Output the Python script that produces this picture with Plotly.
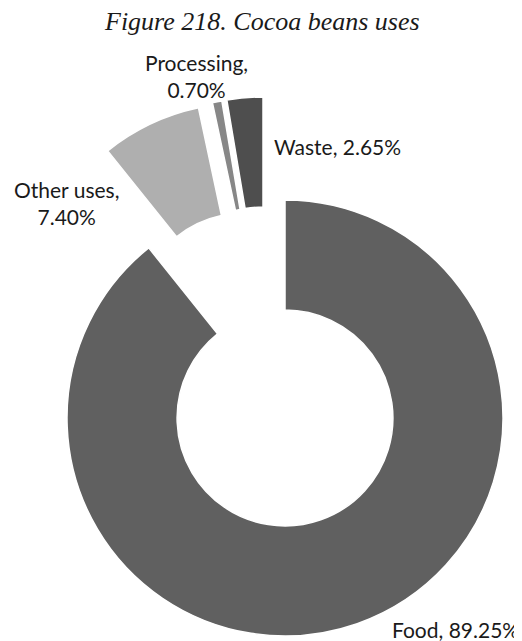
import math
import plotly.graph_objects as go

# ---- data ----
labels = ["Food", "Other uses", "Processing", "Waste"]
shares = [89.25, 7.40, 0.70, 2.65]
label_text = ["Food, 89.25%", "Other uses,<br>7.40%", "Processing,<br>0.70%", "Waste, 2.65%"]
title_text = "Figure 218. Cocoa beans uses"

# ---- styles / layout ----
colors = ["#606060", "#afafaf", "#878787", "#4e4e4e"]
# explode offsets of each slice in px (dx, dy), as in the original chart
explode_px = [(0, 0), (-41, -97), (-27, -102), (-22, -103)]

OFF = 8                      # default page body margin
W, H = 522 - OFF, 641 - OFF  # figure size so that it fits in the window
CX, CY, R = 285 - OFF, 418 - OFF, 218
HOLE = 0.495
LABEL_FONT = dict(family="Lato, 'Open Sans', sans-serif", size=21, color="#1a1a1a")

fig = go.Figure()
n = len(labels)
for i in range(n):
    dx, dy = explode_px[i]
    cx, cy = CX + dx, CY + dy
    cols = [colors[j] if j == i else "rgba(0,0,0,0)" for j in range(n)]
    widths = [1.5 if j == i else 0 for j in range(n)]
    fig.add_trace(go.Pie(
        labels=labels, values=shares, sort=False, direction="clockwise",
        rotation=0, hole=HOLE, textinfo="none", showlegend=False,
        hoverinfo="label+percent" if i == 0 else "skip",
        marker=dict(colors=cols, line=dict(color="white", width=widths)),
        domain=dict(x=[(cx - R) / W, (cx + R) / W],
                    y=[(H - cy - R) / H, (H - cy + R) / H]),
    ))

# label positions (px in the reference window) and anchors
label_pos = {
    0: (521, 629, "right"),
    1: (66, 203, "center"),
    2: (196, 76, "center"),
    3: (272, 147, "left"),
}
annotations = []
for i, (px, py, anchor) in label_pos.items():
    annotations.append(dict(
        x=(px - OFF) / W, y=1 - (py - OFF) / H, xref="paper", yref="paper",
        text=label_text[i], showarrow=False, xanchor=anchor, yanchor="middle",
        align="center", font=LABEL_FONT,
    ))
annotations.append(dict(
    x=(262 - OFF) / W, y=1 - (22 - OFF) / H, xref="paper", yref="paper",
    text="<i>" + title_text + "</i>", showarrow=False,
    xanchor="center", yanchor="middle",
    font=dict(family="'Liberation Serif', 'DejaVu Serif', serif", size=26, color="#1a1a1a"),
))

fig.update_layout(
    width=W, height=H, margin=dict(l=0, r=0, t=0, b=0),
    paper_bgcolor="white", plot_bgcolor="white",
    annotations=annotations,
)

fig.write_html("out.html")
